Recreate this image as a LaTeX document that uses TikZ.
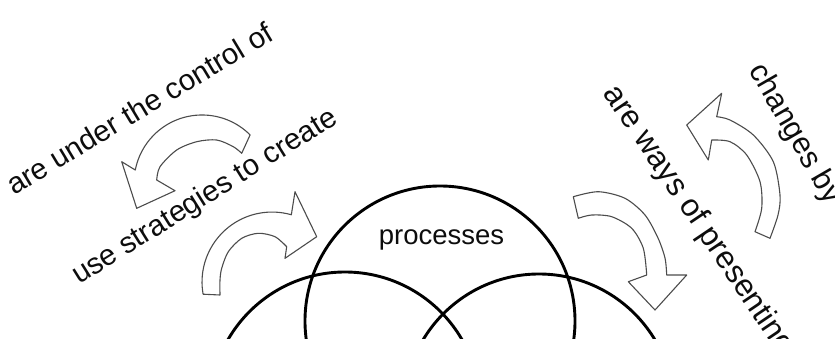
\documentclass[tikz,border=0pt]{standalone}
\usepackage{fontspec}
\setmainfont{Liberation Sans}
\begin{document}
\begin{tikzpicture}[x=1pt,y=1pt,
  ring/.style={circle, draw=black, line width=2.9pt, minimum size=270pt, inner sep=0pt},
  bigarrow/.style={draw=black!70, line width=1.1pt, fill=white, line join=round},
  lbl/.style={text=black!95, inner sep=0pt}]
\useasboundingbox (0,0) rectangle (835,-338);
\clip (0,0) rectangle (835,-338);
% Venn circles
\node[ring] (pc) at (440,-321) {};
\node[ring] (lc) at (345,-407) {};
\node[ring] (rc) at (539,-409) {};
\node[lbl, font=\fontsize{27.5}{33}\selectfont, anchor=base] (proc) at (441.5,-244) {processes};
% labels
\node[lbl, font=\fontsize{29.5}{35}\selectfont, rotate=31, anchor=base west] (t1) at (14,-196) {are under the control of};
\node[lbl, font=\fontsize{29.5}{35}\selectfont, rotate=32, anchor=base west] (t2) at (79,-285) {use strategies to create};
\node[lbl, font=\fontsize{31.5}{37}\selectfont, rotate=-56, anchor=mid west] (t3) at (605,-92) {are ways of presenting};
\node[lbl, font=\fontsize{30.5}{36}\selectfont, rotate=-60, anchor=mid west] (t4) at (751,-69) {changes by};
% curved block arrows
\draw[bigarrow] (250.1,-134.9) arc[start angle=45, end angle=169, radius=68]
  -- (121.7,-161.7) -- (136.7,-208.3) -- (175,-190.7) -- (156.7,-180)
  -- plot[smooth] coordinates {(156.7,-180) (160,-166.7) (176.7,-150) (196.7,-141.7) (216.7,-140) (233.3,-146.7) (241.7,-153.3)}
  -- cycle;
\draw[bigarrow] (203.1,-294.2) arc[start angle=190, end angle=74, radius=70]
  -- (295,-191.7) -- (316.7,-236.7) -- (285,-258.3) -- (286.7,-246.7)
  -- plot[smooth] coordinates {(286.7,-246.7) (275,-236.7) (258.3,-233.3) (241.7,-238.3) (228.3,-251.7) (221.7,-268.3) (220,-280) (220,-295)}
  -- cycle;
\draw[bigarrow] plot[smooth] coordinates {(573.3,-196.7) (598.3,-191.7) (625,-198.3) (645,-215) (658,-238) (665,-258) (666.7,-275)}
  -- (686.7,-275) -- (655,-310) -- (628.3,-281.7) -- (646.7,-275)
  -- plot[smooth] coordinates {(646.7,-275) (643.3,-248.3) (631.7,-228.3) (611.7,-216.7) (591.7,-215) (578.3,-218.3)}
  -- cycle;
\draw[bigarrow] plot[smooth] coordinates {(770,-238.3) (778,-215) (780,-195) (773.3,-161.7) (753.3,-135) (730,-120) (716.7,-116.7)}
  -- (721.7,-93.3) -- (686.7,-125) -- (708.3,-160) -- (711.7,-140)
  -- plot[smooth] coordinates {(711.7,-140) (730,-141.7) (746.7,-155) (760,-181.7) (761.7,-208.3) (755,-231.7)}
  -- cycle;
\end{tikzpicture}
\end{document}
